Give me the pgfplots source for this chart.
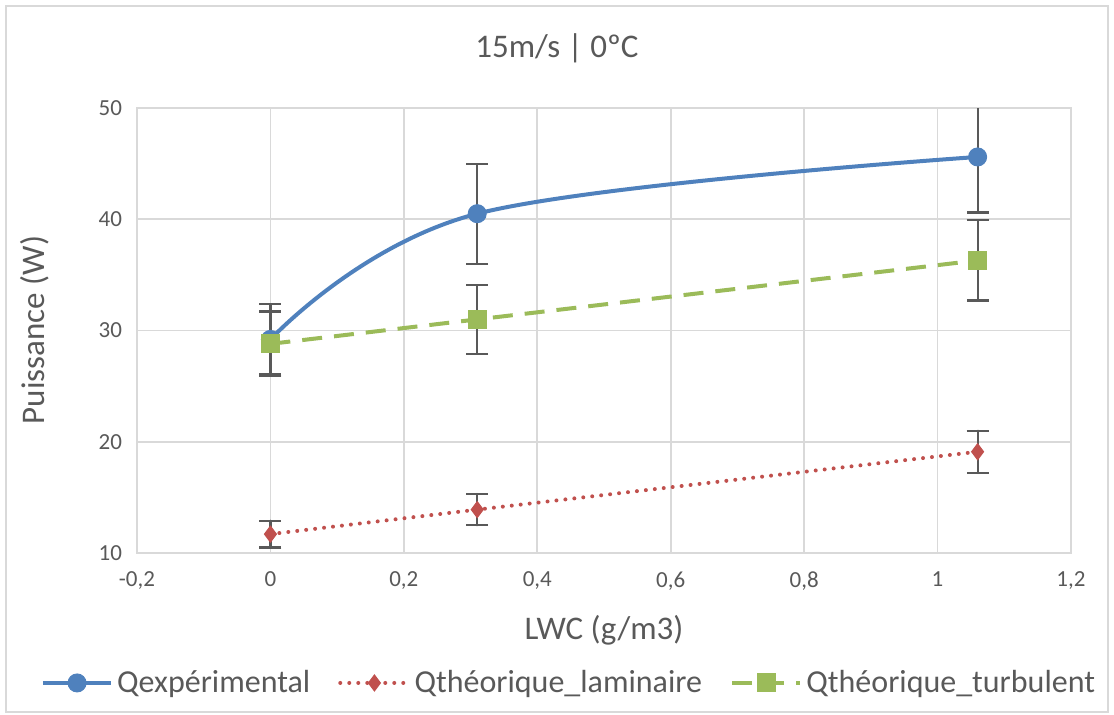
\documentclass[border=0pt]{standalone}
\usepackage{pgfplots}
\pgfplotsset{compat=1.18}
\usepackage{fontspec}
\setmainfont{Carlito}
\definecolor{txt}{HTML}{595959}
\definecolor{gridc}{HTML}{D9D9D9}
\definecolor{cexp}{HTML}{4F81BD}
\definecolor{clam}{HTML}{C0504D}
\definecolor{ctur}{HTML}{9BBB59}
\definecolor{errc}{HTML}{595959}
\begin{document}
\begin{tikzpicture}
\path[use as bounding box] (0,0) rectangle (557pt,357pt);
\draw[gridc, line width=0.6pt] (3pt,1pt) rectangle (554pt,354pt);
\begin{axis}[
    at={(68.5pt,80.5pt)}, anchor=south west,
    scale only axis, width=467pt, height=222.5pt,
    xmin=-0.2, xmax=1.2, ymin=10, ymax=50,
    xtick={-0.2,0,...,1.2}, ytick={10,20,...,50},
    grid=major, grid style={gridc, line width=0.9pt},
    axis line style={gridc, line width=0.9pt},
    major tick length=0pt,
    tick label style={font=\fontsize{11.5}{13}\selectfont, text=txt},
    xticklabel style={yshift=-6pt},
    yticklabel style={xshift=-4pt},
    /pgf/number format/assume math mode=true,
    /pgf/number format/use comma,
    /pgf/number format/fixed,
    /pgf/number format/precision=1,
    error bars/error bar style={errc, line width=1.1pt, solid},
    error bars/error mark options={rotate=90, errc, mark size=5.5pt, line width=1.1pt},
    legend columns=3,
    legend style={at={(0.4636,-0.292)}, anchor=center, draw=none, fill=none,
        font=\fontsize{16}{18}\selectfont, text=txt,
        /tikz/every even column/.append style={column sep=12pt}},
    legend image code/.code={\draw[mark repeat=2,mark phase=2,#1] plot coordinates {(0cm,0cm) (0.6cm,0cm) (1.2cm,0cm)};},
]
\addplot[cexp, line width=2pt, smooth, tension=0.6, mark=*, mark size=4.5pt,
    mark options={solid, fill=cexp, draw=cexp, line width=0.5pt},
    error bars/.cd, y dir=both, y explicit]
coordinates {(0,29.2) +- (0,3.15) (0.31,40.5) +- (0,4.5) (1.06,45.6) +- (0,5.0)};
\addlegendentry{Qexpérimental}
\addplot[clam, line width=2pt, dotted, line cap=round, dash pattern=on 0pt off 4.5pt,
    mark=diamond*, mark size=4pt,
    mark options={solid, fill=clam, draw=clam, line width=0.5pt},
    error bars/.cd, y dir=both, y explicit]
coordinates {(0,11.7) +- (0,1.2) (0.31,13.9) +- (0,1.4) (1.06,19.1) +- (0,1.9)};
\addlegendentry{Qthéorique\_laminaire}
\addplot[ctur, line width=2pt, dash pattern=on 10pt off 6pt,
    mark=square*, mark size=4.5pt,
    mark options={solid, fill=ctur, draw=ctur, line width=0.5pt},
    error bars/.cd, y dir=both, y explicit]
coordinates {(0,28.8) +- (0,2.9) (0.31,31.0) +- (0,3.1) (1.06,36.3) +- (0,3.6)};
\addlegendentry{Qthéorique\_turbulent}
\end{axis}
\node[text=txt, font=\fontsize{16.5}{18}\selectfont] at (278.5pt,333pt) {15m/s | 0ºC};
\node[text=txt, font=\fontsize{16.5}{18}\selectfont, rotate=90] at (17.5pt,192pt) {Puissance (W)};
\node[text=txt, font=\fontsize{16.5}{18}\selectfont] at (302pt,42pt) {LWC (g/m3)};
\end{tikzpicture}
\end{document}
